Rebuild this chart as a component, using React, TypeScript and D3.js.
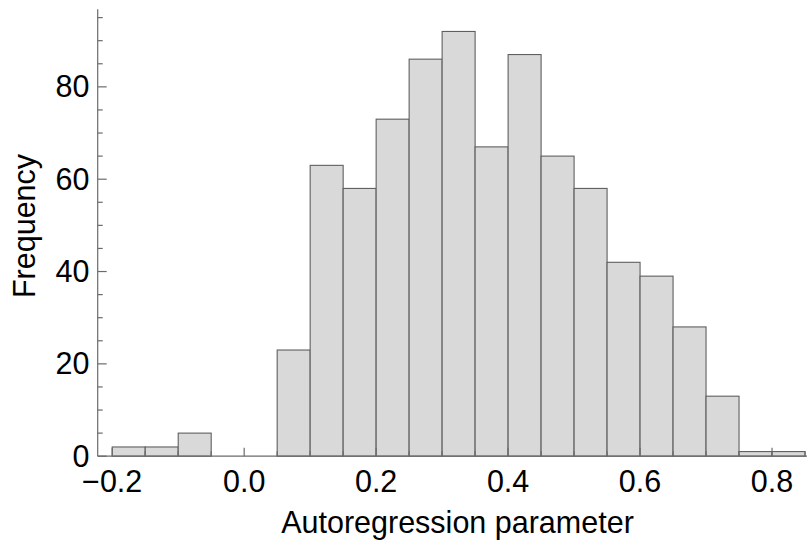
import React from "react";
import * as d3 from "d3";

// Histogram bins (lower edge of each 0.05-wide bin) and their counts
const binStarts = [-0.2, -0.15, -0.1, -0.05, 0.0, 0.05, 0.1, 0.15, 0.2, 0.25, 0.3, 0.35, 0.4, 0.45, 0.5, 0.55, 0.6, 0.65, 0.7, 0.75, 0.8];
const counts = [2, 2, 5, 0, 0, 23, 63, 58, 73, 86, 92, 67, 87, 65, 58, 42, 39, 28, 13, 1, 1];
const binWidth = 0.05;

const xMajorTicks = [-0.2, 0.0, 0.2, 0.4, 0.6, 0.8];
const yMajorTicks = [0, 20, 40, 60, 80];

const xLabel = "Autoregression parameter";
const yLabel = "Frequency";

const W = 811;
const H = 546;
const FONT = "'Liberation Sans', Arial, Helvetica, sans-serif";
const FS = 30.5;

export default function App() {
  const x = d3.scaleLinear().domain([-0.222, 0.853]).range([97.7, 807]);
  const y = d3.scaleLinear().domain([0, 96.8]).range([456.2, 9.3]);

  const xMinor = d3.range(-0.2, 0.851, 0.05).filter(
    (v) => !xMajorTicks.some((m) => Math.abs(m - v) < 1e-6)
  );
  const yMinor = d3.range(0, 96, 5).filter((v) => v % 20 !== 0);

  const axisColor = "#6b6b6b";
  const fmt = (v: number) => {
    const s = d3.format(".1f")(Math.abs(v));
    return v < -1e-9 ? "\u2212" + s : s;
  };

  return (
    <svg
      width={W}
      height={H}
      style={{ position: "fixed", left: 0, top: 0, background: "#fff" }}
      fontFamily={FONT}
    >
      {/* bars */}
      <g>
        {binStarts.map((b, i) =>
          counts[i] > 0 ? (
            <rect
              key={i}
              x={x(b)}
              y={y(counts[i])}
              width={x(b + binWidth) - x(b)}
              height={y(0) - y(counts[i])}
              fill="#d9d9d9"
              stroke="#5f5f5f"
              strokeWidth={1.1}
            />
          ) : null
        )}
      </g>

      {/* x axis */}
      <g stroke={axisColor} strokeWidth={1.2}>
        <line x1={x.range()[0]} x2={x.range()[1]} y1={y(0)} y2={y(0)} />
        {xMajorTicks.map((t) => (
          <line key={"xM" + t} x1={x(t)} x2={x(t)} y1={y(0)} y2={y(0) - 8.5} />
        ))}
        {xMinor.map((t) => (
          <line key={"xm" + t} x1={x(t)} x2={x(t)} y1={y(0)} y2={y(0) - 5} />
        ))}
      </g>
      <g fontSize={FS} fill="#000" textAnchor="middle">
        {xMajorTicks.map((t) => (
          <text key={"xl" + t} x={x(t)} y={492}>
            {fmt(t)}
          </text>
        ))}
      </g>

      {/* y axis */}
      <g stroke={axisColor} strokeWidth={1.2}>
        <line x1={x.range()[0]} x2={x.range()[0]} y1={y(0)} y2={y.range()[1]} />
        {yMajorTicks.map((t) => (
          <line key={"yM" + t} x1={x.range()[0]} x2={x.range()[0] + 9} y1={y(t)} y2={y(t)} />
        ))}
        {yMinor.map((t) => (
          <line key={"ym" + t} x1={x.range()[0]} x2={x.range()[0] + 5} y1={y(t)} y2={y(t)} />
        ))}
      </g>
      <g fontSize={FS} fill="#000" textAnchor="end">
        {yMajorTicks.map((t) => (
          <text key={"yl" + t} x={89.5} y={y(t) + 10.5}>
            {t}
          </text>
        ))}
      </g>

      {/* axis titles */}
      <text x={457.5} y={533.3} fontSize={FS} textAnchor="middle" fill="#000">
        {xLabel}
      </text>
      <text
        transform={`translate(35,226) rotate(-90)`}
        fontSize={FS}
        textAnchor="middle"
        fill="#000"
      >
        {yLabel}
      </text>
    </svg>
  );
}
